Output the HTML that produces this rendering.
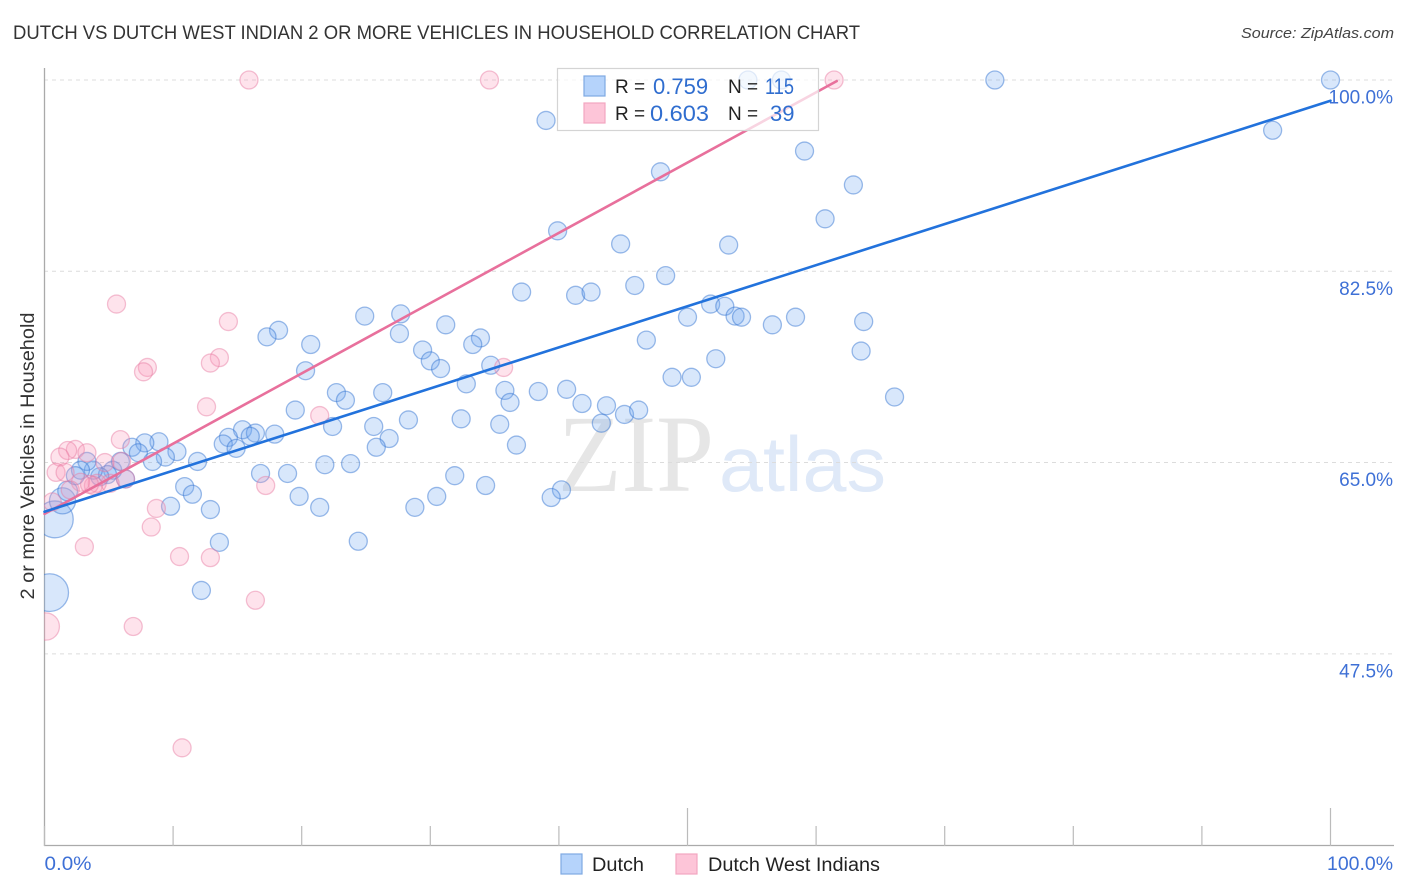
<!DOCTYPE html>
<html lang="en">
<head>
<meta charset="utf-8">
<title>Dutch vs Dutch West Indian 2 or More Vehicles in Household Correlation Chart</title>
<style>
html,body{margin:0;padding:0;background:#fff;}
svg{display:block;font-family:"Liberation Sans",sans-serif;}
.tick-label{fill:#3e70d6;font-size:19px;}
.leg{fill:#222;font-size:19px;}
.val{fill:#2f6dcf;font-size:22px;}
</style>
</head>
<body>
<svg id="chart" width="1406" height="892" viewBox="0 0 1406 892" xmlns="http://www.w3.org/2000/svg">
<defs><clipPath id="plot-clip"><rect x="44" y="0" width="1362" height="892"/></clipPath></defs>
<text x="13" y="39" font-size="19.5" fill="#333" textLength="847" lengthAdjust="spacingAndGlyphs">DUTCH VS DUTCH WEST INDIAN 2 OR MORE VEHICLES IN HOUSEHOLD CORRELATION CHART</text>
<text x="1241" y="38" font-size="15" font-style="italic" fill="#444" textLength="153" lengthAdjust="spacingAndGlyphs">Source: ZipAtlas.com</text>
<g>
<text x="558" y="491" font-family="'Liberation Serif',serif" font-size="110" fill="#e6e6e6" textLength="156" lengthAdjust="spacingAndGlyphs">ZIP</text>
<text x="719" y="491" font-size="78" fill="#dfe9f8" textLength="167" lengthAdjust="spacingAndGlyphs">atlas</text>
</g>
<g id="grid"></g>
<g id="axes">
<line x1="44.5" y1="68" x2="44.5" y2="846" stroke="#aaa" stroke-width="1.3"/>
<line x1="44" y1="845.5" x2="1394" y2="845.5" stroke="#aaa" stroke-width="1.3"/>
</g>
<g id="x-ticks"></g>
<g id="y-labels"></g>
<g id="x-labels"></g>
<text transform="translate(34,456) rotate(-90)" text-anchor="middle" font-size="19.5" fill="#333" textLength="287" lengthAdjust="spacingAndGlyphs">2 or more Vehicles in Household</text>
<g clip-path="url(#plot-clip)">
<g id="pts-blue"></g>
<g id="pts-pink"></g>
</g>
<line id="trend-pink" stroke="#e8709c" stroke-width="2.6" stroke-linecap="round"/>
<line id="trend-blue" stroke="#2272dc" stroke-width="2.6" stroke-linecap="round"/>
<g>
<rect x="557.5" y="68.5" width="261" height="62" fill="#fff" fill-opacity="0.7" stroke="#d4d4d4" stroke-width="1.2"/>
<rect x="584" y="76" width="21" height="20" fill="#b5d3fb" stroke="#7fa9e2" stroke-width="1.2"/>
<rect x="584" y="103" width="21" height="20" fill="#fdc5d8" stroke="#f2a6c0" stroke-width="1.2"/>
<text class="leg" x="615" y="93">R =</text>
<text class="val" x="653" y="94">0.759</text>
<text class="leg" x="728" y="93">N =</text>
<text class="val" x="765" y="94" textLength="29" lengthAdjust="spacingAndGlyphs">115</text>
<text class="leg" x="615" y="120">R =</text>
<text class="val" x="650" y="121" textLength="59" lengthAdjust="spacingAndGlyphs">0.603</text>
<text class="leg" x="728" y="120">N =</text>
<text class="val" x="770" y="121">39</text>
</g>
<g>
<rect x="561" y="854" width="21" height="20" fill="#b5d3fb" stroke="#7fa9e2" stroke-width="1.2"/>
<text class="leg" x="592" y="871" textLength="52" lengthAdjust="spacingAndGlyphs">Dutch</text>
<rect x="676" y="854" width="21" height="20" fill="#fdc5d8" stroke="#f2a6c0" stroke-width="1.2"/>
<text class="leg" x="708" y="871" textLength="172" lengthAdjust="spacingAndGlyphs">Dutch West Indians</text>
</g>
</svg>
<script>
const yTickValues = [100, 82.5, 65, 47.5];
const yTickLabels = ["100.0%", "82.5%", "65.0%", "47.5%"];
const xTickValues = [0, 10, 20, 30, 40, 50, 60, 70, 80, 90, 100];
const xMajorTicks = [50, 100];
const xEndValues = [0, 100];
const xEndLabels = ["0.0%", "100.0%"];

const dutchX = [0.8,0.4,1.4,1.8,39.0,39.9,47.9,59.1,62.9,60.7,44.8,53.2,95.5,73.9,100,54.7,57.3,48.3,45.9,37.1,41.3,42.5,51.8,52.9,53.7,54.2,50.0,58.4,56.6,63.7,63.5,66.1,46.8,52.2,48.8,50.3,24.9,27.7,31.2,27.6,33.9,33.3,29.4,30.0,30.8,34.7,32.8,35.8,36.2,38.4,40.6,41.8,43.7,45.1,46.2,43.3,18.2,17.3,20.7,20.3,22.7,23.4,26.3,19.5,28.3,32.4,35.4,22.4,25.6,26.8,25.8,36.7,15.4,14.3,13.9,16.4,16.0,14.9,17.9,8.9,7.8,6.8,7.3,10.3,9.4,8.4,11.9,16.8,18.9,21.8,23.8,31.9,34.3,40.2,39.4,30.5,28.8,21.4,19.8,10.9,11.5,9.8,12.9,13.6,24.4,12.2,6.3,5.3,5.9,4.9,4.3,3.8,3.3,2.8,2.4];
const dutchY = [59.8,53.1,61.5,62.4,96.3,86.2,91.6,93.5,90.4,87.3,85.0,84.9,95.4,100,100,100,100,82.1,81.2,80.6,80.3,80.6,79.5,79.3,78.4,78.3,78.3,78.3,77.6,77.9,75.2,71.0,76.2,74.5,72.8,72.8,78.4,78.6,77.6,76.8,76.4,75.8,75.3,74.3,73.6,73.9,72.2,71.6,70.5,71.5,71.7,70.4,70.2,69.4,69.8,68.6,77.1,76.5,75.8,73.4,71.4,70.7,71.4,69.8,68.9,69.0,68.5,68.3,68.3,67.2,66.4,66.6,68.0,67.3,66.7,67.7,67.4,66.3,67.6,66.9,66.8,66.4,65.9,66.0,65.5,65.1,65.1,64.0,64.0,64.8,64.9,63.8,62.9,62.5,61.8,61.9,60.9,60.9,61.9,62.8,62.1,61.0,60.7,57.7,57.8,53.3,63.5,64.3,65.1,63.9,63.7,64.3,65.1,64.3,63.8];
/* relative bubble weights for the first points; all others are 1 */
const dutchWeights = [4.2,4.4,2.1,1.2];

const westIndianX = [0.1,15.9,34.6,61.4,5.6,14.3,13.6,12.9,8.0,7.7,35.7,12.6,21.4,5.9,2.4,1.8,3.3,1.2,0.9,1.6,4.7,6.0,17.2,6.3,5.1,4.1,3.8,2.8,2.0,0.6,8.7,8.3,3.1,10.5,12.9,16.4,6.9,10.7,3.5];
const westIndianY = [50.0,100,100,100,79.5,77.9,74.6,74.1,73.7,73.3,73.7,70.1,69.3,67.1,66.2,66.1,65.9,65.5,64.1,64.1,65.0,65.1,62.9,63.5,63.1,63.1,62.9,63.2,62.5,61.4,60.8,59.1,57.3,56.4,56.3,52.4,50.0,38.9,63.0];
const westIndianWeights = [2.3];

const dutchTrendX = [0, 100];
const dutchTrendY = [60.5, 98.1];
const westIndianTrendX = [0, 61.6];
const westIndianTrendY = [60.3, 99.9];

const NS = "http://www.w3.org/2000/svg";
function xScale(v){ return 44.5 + v * 12.86; }
function yScale(v){ return 80 + (100 - v) * 10.93; }
function radius(w){ return 9 * Math.sqrt(w); }
function make(tag, attrs, parent){
  const el = document.createElementNS(NS, tag);
  for (const k in attrs) el.setAttribute(k, attrs[k]);
  parent.appendChild(el);
  return el;
}

const grid = document.getElementById("grid");
yTickValues.forEach(function(v){
  const l = make("line", {x1:44, x2:1394, y1:yScale(v), y2:yScale(v), stroke:"#dcdcdc", "stroke-width":1, "stroke-dasharray":"4 4"}, grid);
  
  
});

const xTicks = document.getElementById("x-ticks");
xTickValues.forEach(function(v){
  const top = xMajorTicks.indexOf(v) >= 0 ? 808 : 826;
  const l = make("line", {x1:xScale(v), x2:xScale(v), y1:top, y2:846, stroke:"#bbb", "stroke-width":1.2}, xTicks);
  
  
});

const yLabels = document.getElementById("y-labels");
yTickValues.forEach(function(v, i){
  const t = make("text", {x:1393, y:yScale(v) + 23.5, "text-anchor":"end", "class":"tick-label"}, yLabels);
  t.textContent = yTickLabels[i];
  
  
});

const xLabels = document.getElementById("x-labels");
xEndValues.forEach(function(v, i){
  const t = make("text", {x: i === 0 ? xScale(v) : 1393, y:870, "text-anchor": i === 0 ? "start" : "end", "class":"tick-label", textLength: i === 0 ? 47 : 66, lengthAdjust:"spacingAndGlyphs"}, xLabels);
  t.textContent = xEndLabels[i];
  
  
});

function drawPoints(id, xs, ys, weights, fill, stroke){
  const g = document.getElementById(id);
  xs.forEach(function(x, i){
    const w = i < weights.length ? weights[i] : 1;
    const c = make("circle", {cx:xScale(x), cy:yScale(ys[i]), r:radius(w), fill:fill, stroke:stroke, "stroke-width":1.3}, g);
    
    
  });
}
drawPoints("pts-blue", dutchX, dutchY, dutchWeights, "rgba(110,165,240,0.27)", "rgba(50,115,210,0.48)");
drawPoints("pts-pink", westIndianX, westIndianY, westIndianWeights, "rgba(250,150,185,0.27)", "rgba(230,120,160,0.45)");

function setTrend(id, xs, ys){
  const l = document.getElementById(id);
  l.setAttribute("x1", xScale(xs[0]));
  l.setAttribute("y1", yScale(ys[0]));
  l.setAttribute("x2", xScale(xs[1]));
  l.setAttribute("y2", yScale(ys[1]));
}
setTrend("trend-blue", dutchTrendX, dutchTrendY);
setTrend("trend-pink", westIndianTrendX, westIndianTrendY);
</script>
</body>
</html>
